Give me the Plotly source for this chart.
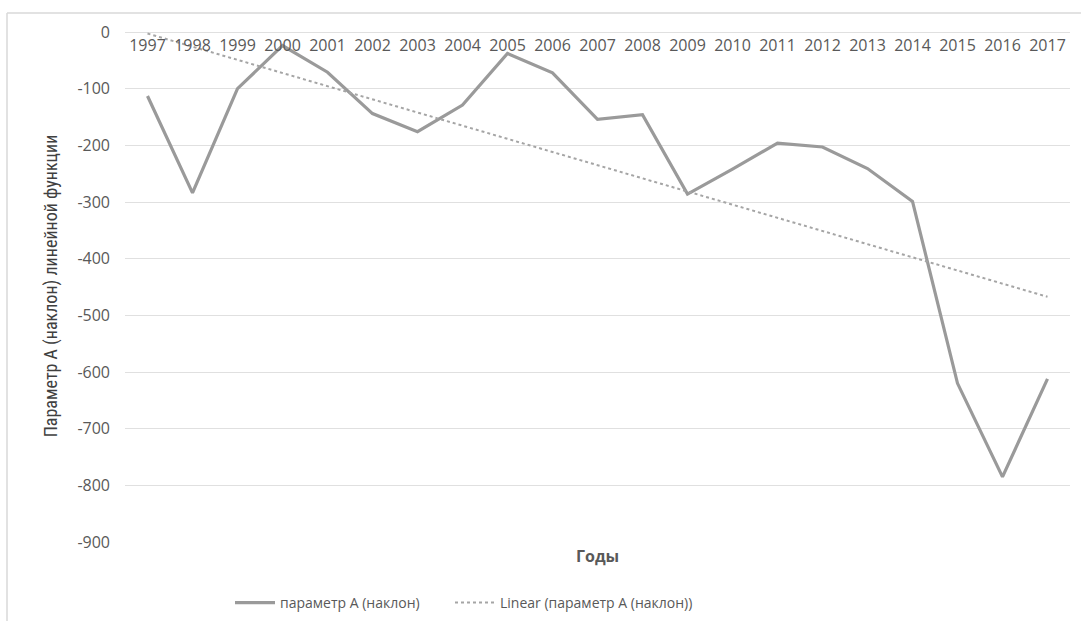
import numpy as np
import plotly.graph_objects as go

years = ["1997", "1998", "1999", "2000", "2001", "2002", "2003", "2004", "2005", "2006",
         "2007", "2008", "2009", "2010", "2011", "2012", "2013", "2014", "2015", "2016", "2017"]
param_a = [-113, -284, -100, -24, -71, -144, -176, -129, -38, -72,
           -154, -146, -286, -242, -196, -203, -241, -299, -620, -785, -612]
y_ticks = [0, -100, -200, -300, -400, -500, -600, -700, -800, -900]

idx = np.arange(len(years))
coef = np.polyfit(idx, param_a, 1)
trend = np.polyval(coef, idx)

W, H = 1081, 621
L, R, T, B = 125, 1081 - 1070, 30, 621 - 542
pw, ph = W - L - R, H - T - B
y_top = 900 * (542 - T) / (542 - 32) - 900  # value at top of plot area
zero_pos = (542 - 32) / ph - 0.002  # paper y just under the zero line

fig = go.Figure()
fig.add_trace(go.Scatter(
    x=years, y=param_a, mode="lines", name="параметр А (наклон)",
    line=dict(color="#9a9a9a", width=3.2), legend="legend",
))
fig.add_trace(go.Scatter(
    x=years, y=trend, mode="lines", name="Linear (параметр А (наклон))",
    line=dict(color="#a5a5a5", width=2, dash="dot"), legend="legend2",
))

leg_common = dict(orientation="h", xanchor="left", yanchor="middle",
                  y=-(603 - 542) / ph, font=dict(size=14, color="#595959"),
                  bgcolor="rgba(0,0,0,0)", itemwidth=40)

fig.update_layout(
    width=W, height=H,
    margin=dict(l=L, r=R, t=T, b=B, autoexpand=False),
    paper_bgcolor="white", plot_bgcolor="white",
    font=dict(family="Open Sans", color="#595959"),
    xaxis=dict(
        type="category", side="bottom", anchor="free", position=zero_pos,
        range=[-0.5, len(years) - 0.5], automargin=False,
        showgrid=False, showline=False, ticks="",
        tickfont=dict(size=16, color="#595959"),
        ticklabelstandoff=1,
        zeroline=False,
    ),
    yaxis=dict(
        range=[-900, y_top], tickvals=y_ticks, ticktext=[str(v) for v in y_ticks],
        showgrid=True, gridcolor="#e0e0e0", gridwidth=1.2,
        zeroline=True, zerolinecolor="#e0e0e0", zerolinewidth=1.2,
        showline=False, ticks="", automargin=False,
        tickfont=dict(size=16, color="#595959"),
        ticklabelstandoff=14,
        title=dict(text="Параметр А (наклон) линейной функции",
                   font=dict(family="Liberation Sans Narrow, Roboto Condensed, Liberation Sans", size=18, color="#404040"),
                   standoff=15),
    ),
    legend=dict(x=(230 - L) / pw, **leg_common),
    legend2=dict(x=(450 - L) / pw, **leg_common),
    showlegend=True,
    annotations=[dict(
        text="<b>Годы</b>", xref="paper", yref="paper",
        x=0.5, y=-(556 - 542) / ph, xanchor="center", yanchor="middle",
        showarrow=False, font=dict(size=16, color="#595959"),
    )],
    shapes=[
        dict(type="line", xref="paper", yref="paper",
             x0=(7 - L) / pw, x1=(1081 - L) / pw + 0.01,
             y0=(542 - 13) / ph, y1=(542 - 13) / ph,
             line=dict(color="#d9d9d9", width=1.5)),
        dict(type="line", xref="paper", yref="paper",
             x0=(7 - L) / pw, x1=(7 - L) / pw,
             y0=(542 - 13) / ph, y1=-(621 - 542) / ph - 0.02,
             line=dict(color="#d9d9d9", width=1.5)),
    ],
)

fig.write_html("out.html",
               config={"displayModeBar": False},
               post_script="document.body.style.margin='0';document.body.style.padding='0';document.body.style.overflow='hidden';")
